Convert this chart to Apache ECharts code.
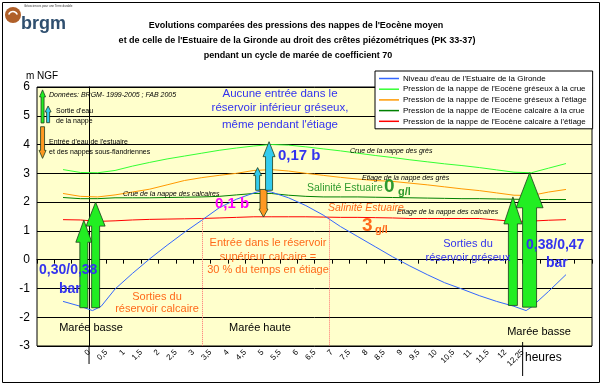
<!DOCTYPE html>
<html><head><meta charset="utf-8">
<script src="https://cdn.jsdelivr.net/npm/echarts@6/dist/echarts.min.js"></script>
<style>html,body{margin:0;padding:0;background:#fff}#c{width:603px;height:386px}</style>
</head><body><div id="c"></div>
<script>
// ---- data ----
// x positions are in "slot hours": one tick every 0.5, the last labelled tick ("12,25") sits in the 12.5 slot
const xTickLabels = ['', '', '', '0', '0,5', '1', '1,5', '2', '2,5', '3', '3,5', '4', '4,5', '5', '5,5', '6', '6,5',
  '7', '7,5', '8', '8,5', '9', '9,5', '10', '10,5', '11', '11,5', '12', '12,25', '', '', '', ''];
const yTicks = [-3, -2, -1, 0, 1, 2, 3, 4, 5, 6];
const seriesNames = [
  "Niveau d'eau de l'Estuaire de la Gironde",
  "Pression de la nappe de l'Eocène gréseux à la crue",
  "Pression de la nappe de l'Eocène gréseux à l'étiage",
  "Pression de la nappe de l'Eocène calcaire à la crue",
  "Pression de la nappe de l'Eocène calcaire à l'étiage"
];
const estuaryX = [-0.75, -0.25, 0.1, 0.35, 0.75, 1.25, 1.75, 2.25, 2.75, 3.25, 3.75, 4.25, 4.75, 5.0, 5.25, 5.75, 6.25,
  6.75, 7.25, 7.75, 8.25, 8.75, 9.25, 9.75, 10.25, 10.75, 11.25, 11.75, 12.25, 12.6, 12.75, 13.25, 13.75];
const estuaryY = [-1.45, -1.62, -1.77, -1.62, -1.02, -0.48, 0.03, 0.5, 0.95, 1.37, 1.8, 2.1, 2.32, 2.4, 2.35, 2.15, 1.88,
  1.55, 1.15, 0.8, 0.45, 0.1, -0.22, -0.52, -0.8, -1.02, -1.25, -1.45, -1.62, -1.77, -1.65, -1.1, -0.52];
const nappeX = [-0.75, -0.25, 0.25, 0.75, 1.25, 1.75, 2.25, 2.75, 3.25, 3.75, 4.25, 4.75, 5.25, 5.75, 6.25, 6.75,
  7.25, 7.75, 8.25, 8.75, 9.25, 9.75, 10.25, 10.75, 11.25, 11.75, 12.25, 12.75, 13.25, 13.75];
const gresCrue = [3.13, 3.03, 3.02, 3.1, 3.25, 3.38, 3.5, 3.6, 3.7, 3.8, 3.88, 3.95, 4.0, 3.98, 3.92, 3.85,
  3.78, 3.7, 3.62, 3.55, 3.47, 3.4, 3.33, 3.27, 3.2, 3.12, 3.04, 3.02, 3.18, 3.34];
const gresEtiage = [2.3, 2.2, 2.18, 2.25, 2.35, 2.45, 2.6, 2.75, 2.85, 2.93, 3.0, 3.1, 3.13, 3.08, 3.0, 2.93,
  2.86, 2.8, 2.75, 2.72, 2.66, 2.6, 2.53, 2.46, 2.4, 2.32, 2.24, 2.23, 2.35, 2.44];
const calcCrue = [2.16, 2.12, 2.12, 2.15, 2.15, 2.15, 2.16, 2.17, 2.18, 2.2, 2.25, 2.3, 2.3, 2.24, 2.2, 2.18,
  2.18, 2.18, 2.17, 2.16, 2.15, 2.14, 2.13, 2.12, 2.12, 2.11, 2.1, 2.09, 2.09, 2.09];
const calcEtiage = [1.39, 1.38, 1.33, 1.35, 1.38, 1.4, 1.41, 1.42, 1.43, 1.45, 1.47, 1.49, 1.49, 1.49, 1.49, 1.48,
  1.47, 1.47, 1.46, 1.45, 1.43, 1.43, 1.43, 1.43, 1.43, 1.38, 1.33, 1.34, 1.37, 1.39];
// vertical dotted limits [x, top]
const limitX = [3.25, 6.93];
const limitTop = [1.42, 1.46];
// arrows: x, start level, end level
const arrowX =    [-1.34, -1.18, -1.34, -0.15, 0.19, 12.22, 12.70, 4.86, 5.03, 5.19];
const arrowFrom = [4.75, 4.76, 4.62, -1.67, -1.67, -1.59, -1.65, 2.41, 2.44, 2.41];
const arrowTo =   [5.9, 5.34, 3.52, 1.37, 2.0, 2.18, 3.02, 3.2, 1.48, 4.1];
const lowTideX = [0, 12.5];

// ---- styles ----
const colors = ['#3366ff', '#33ff33', '#ff9900', '#008000', '#ff0000'];
const GREEN = '#22ee22', CYAN = '#33ccee', ORANGE = '#ff9922';
const arrowStyles = [
  {fill: GREEN, sw: 3, hw: 6, len: 7},
  {fill: CYAN, sw: 3, hw: 6, len: 6},
  {fill: ORANGE, sw: 4, hw: 7, len: 8},
  {fill: GREEN, sw: 8, hw: 16, len: 22},
  {fill: GREEN, sw: 8, hw: 19, len: 24},
  {fill: GREEN, sw: 9, hw: 18, len: 27},
  {fill: GREEN, sw: 14, hw: 27, len: 35},
  {fill: CYAN, sw: 4, hw: 8, len: 8},
  {fill: ORANGE, sw: 7, hw: 9, len: 8},
  {fill: CYAN, sw: 7, hw: 12, len: 15}
];
const FONT = '"Liberation Sans", Arial, sans-serif';

const chart = echarts.init(document.getElementById('c'), null, {renderer: 'canvas'});

function lineSeries(i, xs, ys, extra) {
  return Object.assign({
    name: seriesNames[i], type: 'line', data: xs.map((x, k) => [x, ys[k]]),
    symbol: 'none', lineStyle: {color: colors[i], width: 1}, itemStyle: {color: colors[i]},
    z: 3, animation: false
  }, extra || {});
}

function t(text, x, y, style) {
  return {type: 'text', x: x, y: y, z: 50, style: Object.assign({
    text: text, fill: '#000', font: '11px ' + FONT, align: 'left', verticalAlign: 'middle'}, style || {})};
}
const BLUE = '#3333ee', ORG = '#ff6a1a', GRN = '#2e9a2e';

const option = {
  animation: false,
  backgroundColor: '#fff',
  grid: {left: 37, right: 11, top: 87, bottom: 40, show: true, backgroundColor: '#ffffcc', borderColor: '#000', borderWidth: 1},
  xAxis: {
    type: 'value', min: -1.5, max: 14.5, interval: 0.5,
    axisLine: {lineStyle: {color: '#000'}}, axisTick: {length: 4, lineStyle: {color: '#000'}},
    splitLine: {show: false},
    axisLabel: {rotate: 45, fontSize: 8, fontFamily: FONT, color: '#000', margin: 5,
      formatter: v => xTickLabels[Math.round((v + 1.5) / 0.5)] || ''}
  },
  yAxis: {
    type: 'value', min: yTicks[0], max: yTicks[yTicks.length - 1], interval: 1,
    axisLine: {show: true, lineStyle: {color: '#000'}}, axisTick: {show: true, length: 4, lineStyle: {color: '#000'}},
    splitLine: {lineStyle: {color: '#000', width: 1}},
    axisLabel: {fontSize: 12, fontFamily: FONT, color: '#000', margin: 7}
  },
  legend: {
    orient: 'vertical', left: 375, top: 71, data: seriesNames,
    backgroundColor: '#fff', borderColor: '#000', borderWidth: 1, padding: [3, 6, 3, 4],
    itemWidth: 20, itemHeight: 1.5, itemGap: 1.7, icon: 'rect',
    textStyle: {fontSize: 8, fontFamily: FONT, color: '#000', lineHeight: 9, padding: [0, 0, 0, -1]}
  },
  series: [
    lineSeries(1, nappeX, gresCrue),
    lineSeries(2, nappeX, gresEtiage),
    lineSeries(3, nappeX, calcCrue),
    lineSeries(4, nappeX, calcEtiage, {
      markLine: {silent: true, symbol: 'none', label: {show: false},
        lineStyle: {color: '#ff7070', type: 'dotted', width: 1},
        data: limitX.map((x, k) => [{coord: [x, limitTop[k]]}, {coord: [x, yTicks[0]]}])}
    }),
    lineSeries(0, estuaryX, estuaryY, {z: 4}),
    {
      type: 'custom', name: 'arrows', clip: false, z: 10, silent: true,
      data: arrowX.map((x, k) => [x, arrowFrom[k], arrowTo[k]]),
      renderItem: function (params, api) {
        const st = arrowStyles[params.dataIndex];
        const p0 = api.coord([api.value(0), api.value(1)]);
        const p1 = api.coord([api.value(0), api.value(2)]);
        const dir = p1[1] > p0[1] ? 1 : -1;
        const bx = p0[0], by = p1[1] - dir * st.len;
        const sw = st.sw / 2, hw = st.hw / 2;
        return {type: 'polygon', shape: {points: [
          [bx - sw, p0[1]], [bx - sw, by], [bx - hw, by], [bx, p1[1]], [bx + hw, by], [bx + sw, by], [bx + sw, p0[1]]]},
          style: {fill: st.fill, stroke: '#1d3d1d', lineWidth: 0.8}};
      }
    },
    {
      type: 'custom', name: 'lowtide', clip: false, z: 10, silent: true,
      data: lowTideX.map((x, k) => [x, k]),
      renderItem: function (params, api) {
        const p = api.coord([api.value(0), yTicks[0]]);
        const extra = params.dataIndex === 0 ? 18 : 30;
        return {type: 'line', shape: {x1: p[0], y1: p[1] - (params.dataIndex === 0 ? 0 : 4), x2: p[0], y2: p[1] + extra},
          style: {stroke: '#000', lineWidth: 1}};
      }
    }
  ],
  graphic: [
    {type: 'rect', shape: {x: 2.5, y: 2.5, width: 597, height: 380}, style: {fill: 'none', stroke: '#000', lineWidth: 1}, z: 0},
    // logo
    {type: 'circle', shape: {cx: 13, cy: 15, r: 8}, style: {fill: '#b0602a'}, z: 40},
    {type: 'arc', shape: {cx: 13, cy: 16, r: 4.5, startAngle: Math.PI * 1.1, endAngle: Math.PI * 1.9}, style: {stroke: '#fff', lineWidth: 1.6, fill: 'none'}, z: 41},
    t('brgm', 21, 24, {font: 'bold 18px ' + FONT, fill: '#2f4f6f'}),
    t('Géosciences pour une Terre durable', 24, 6, {font: '3px ' + FONT, fill: '#333'}),
    // title
    t("Evolutions comparées des pressions des nappes de l'Eocène moyen", 296, 26, {font: 'bold 9px ' + FONT, align: 'center'}),
    t("et de celle de l'Estuaire de la Gironde au droit des crêtes piézométriques (PK 33-37)", 297, 41, {font: 'bold 9px ' + FONT, align: 'center'}),
    t("pendant un cycle de marée de coefficient 70", 298, 56, {font: 'bold 9px ' + FONT, align: 'center'}),
    t('m NGF', 26, 76, {font: '10px ' + FONT}),
    t('heures', 525, 358, {font: '12px ' + FONT}),
    // top-left key
    t('Données: BRGM- 1999-2005 ; FAB 2005', 49, 95, {font: 'italic 7px ' + FONT}),
    t("Sortie d'eau", 56, 111, {font: '7px ' + FONT}),
    t('de la nappe', 56, 121, {font: '7px ' + FONT}),
    t("Entrée d'eau de l'estuaire", 49, 142, {font: '7px ' + FONT}),
    t('et des nappes sous-flandriennes', 49, 152, {font: '7px ' + FONT}),
    // line labels
    t('Crue de la nappe des calcaires', 123, 194, {font: 'italic 7px ' + FONT}),
    t('Crue de la nappe des grès', 350, 151, {font: 'italic 7px ' + FONT}),
    t('Etiage de la nappe des grès', 362, 178, {font: 'italic 7px ' + FONT}),
    t('Etiage de la nappe des calcaires', 397, 212, {font: 'italic 7px ' + FONT}),
    // blue annotations
    t('Aucune entrée dans le', 280, 94, {font: '11.5px ' + FONT, fill: BLUE, align: 'center'}),
    t('réservoir inférieur gréseux,', 280, 108, {font: '11.5px ' + FONT, fill: BLUE, align: 'center'}),
    t("même pendant l'étiage", 280, 125, {font: '11.5px ' + FONT, fill: BLUE, align: 'center'}),
    t('0,17 b', 278, 156, {font: 'bold 15px ' + FONT, fill: BLUE}),
    t('0,1 b', 215, 204, {font: 'bold 15px ' + FONT, fill: '#ff00ff'}),
    t('Salinité Estuaire', 307, 188, {font: '10.5px ' + FONT, fill: GRN}),
    t('0', 384, 187, {font: 'bold 19px ' + FONT, fill: GRN}),
    t('g/l', 398, 192, {font: 'bold 11px ' + FONT, fill: GRN}),
    t('Salinité Estuaire', 328, 208, {font: 'italic 10.5px ' + FONT, fill: ORG}),
    t('3', 362, 226, {font: 'bold 19px ' + FONT, fill: ORG}),
    t('g/l', 375, 230, {font: 'bold 11px ' + FONT, fill: ORG}),
    t('Entrée dans le réservoir', 268, 243, {font: '11px ' + FONT, fill: ORG, align: 'center'}),
    t('supérieur calcaire =', 268, 257, {font: '11px ' + FONT, fill: ORG, align: 'center'}),
    t('30 % du temps en étiage', 268, 270, {font: '11px ' + FONT, fill: ORG, align: 'center'}),
    t('Sorties du', 157, 297, {font: '11px ' + FONT, fill: ORG, align: 'center'}),
    t('réservoir calcaire', 157, 309, {font: '11px ' + FONT, fill: ORG, align: 'center'}),
    t('Sorties du', 468, 244, {font: '11px ' + FONT, fill: BLUE, align: 'center'}),
    t('réservoir gréseux', 468, 258, {font: '11px ' + FONT, fill: BLUE, align: 'center'}),
    t('0,30/0,38', 39, 270, {font: 'bold 14px ' + FONT, fill: BLUE}),
    t('bar', 59, 289, {font: 'bold 14px ' + FONT, fill: BLUE}),
    t('0,38/0,47', 526, 245, {font: 'bold 14px ' + FONT, fill: BLUE}),
    t('bar', 546, 263, {font: 'bold 14px ' + FONT, fill: BLUE}),
    t('Marée basse', 91, 328, {font: '11px ' + FONT, align: 'center'}),
    t('Marée haute', 260, 328, {font: '11px ' + FONT, align: 'center'}),
    t('Marée basse', 539, 332, {font: '11px ' + FONT, align: 'center'})
  ]
};
chart.setOption(option);
</script></body></html>
